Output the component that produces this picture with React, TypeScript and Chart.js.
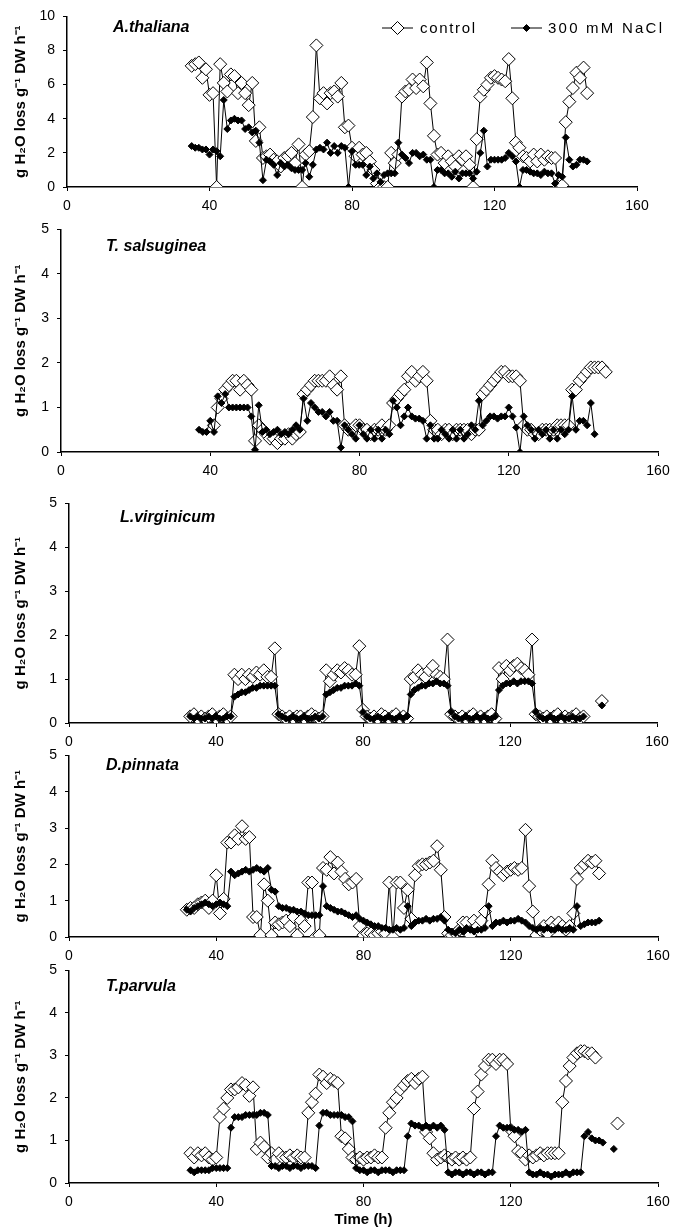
import React, { useEffect, useRef } from 'react';
import { Chart, registerables } from 'chart.js';

Chart.register(...registerables);

const FONT = '"Liberation Sans", Arial, Helvetica, sans-serif';
const Y_TITLE = 'g H\u2082O loss g\u207B\u00B9 DW h\u207B\u00B9';
const X_TICKS = [0, 40, 80, 120, 160];

// ---------- A. thaliana ----------
const timeAth = [
  35, 36, 37, 38, 39, 40, 41, 42, 43, 44,
  45, 46, 47, 48, 49, 50, 51, 52, 53, 54,
  55, 56, 57, 58, 59, 60, 61, 62, 63, 64,
  65, 66, 67, 68, 69, 70, 71, 72, 73, 74,
  75, 76, 77, 78, 79, 80, 81, 82, 83, 84,
  85, 86, 87, 88, 89, 90, 91, 92, 93, 94,
  95, 96, 97, 98, 99, 100, 101, 102, 103, 104,
  105, 106, 107, 108, 109, 110, 111, 112, 113, 114,
  115, 116, 117, 118, 119, 120, 121, 122, 123, 124,
  125, 126, 127, 128, 129, 130, 131, 132, 133, 134,
  135, 136, 137, 138, 139, 140, 141, 142, 143, 144,
  145, 146,
];
const ctrlAth = [
  7.1, 7.2, 7.3, 6.4, 6.9, 5.4, 5.5, 0, 7.2, 6.1,
  5.6, 6.6, 6.5, 5.5, 6.1, 5.5, 4.8, 6.1, 2.7, 3.5,
  1.7, 1.8, 1.9, 1.6, 1.5, 1.2, 1.7, 1.8, 2.0, 1.4,
  2.5, 0, 1.9, 2.1, 4.1, 8.3, 5.2, 5.5, 4.9, 5.5,
  5.6, 5.3, 6.1, 3.5, 3.6, 2.3, 1.8, 2.3, 1.9, 2.0,
  1.5, 1.0, 0.2, 0, 0, 0, 2.0, 1.4, 1.9, 5.3,
  5.6, 5.7, 6.3, 5.8, 6.3, 5.9, 7.3, 4.9, 3.0, 1.9,
  2.0, 1.4, 1.8, 1.5, 1.2, 1.8, 1.6, 1.8, 1.3, 0,
  2.8, 5.3, 5.7, 6.0, 6.4, 6.5, 6.4, 6.3, 6.2, 7.5,
  5.2, 2.6, 2.3, 1.8, 1.7, 1.5, 1.9, 1.5, 1.9, 1.6,
  1.8, 1.7, 1.7, 0, 0.1, 3.8, 5.0, 5.8, 6.7, 6.4,
  7.0, 5.5,
];
const saltAth = [
  2.4, 2.3, 2.3, 2.2, 2.2, 1.9, 2.2, 2.1, 1.8, 5.1,
  3.4, 3.9, 4.0, 3.9, 3.9, 3.4, 3.5, 3.2, 3.3, 2.6,
  0.4, 1.6, 1.5, 1.3, 0.7, 1.4, 1.2, 1.3, 1.1, 1.0,
  1.0, 1.0, 1.4, 0.6, 1.3, 2.2, 2.3, 2.2, 2.6, 2.0,
  2.4, 2.0, 2.4, 2.3, 0, 2.1, 1.3, 1.3, 1.3, 0.7,
  1.2, 0.5, 0.8, 0.3, 0.7, 0.8, 0.8, 0.8, 2.6, 1.9,
  1.7, 1.4, 2.0, 2.0, 1.8, 1.9, 1.6, 1.6, 0, 1.0,
  1.0, 0.8, 0.8, 0.6, 0.9, 0.5, 0.8, 0.8, 0.8, 0.5,
  0.9, 2.0, 3.3, 1.2, 1.6, 1.6, 1.6, 1.6, 1.7, 2.0,
  1.8, 1.5, 0, 1.0, 1.0, 0.9, 0.8, 0.8, 0.7, 0.9,
  0.8, 0.8, 0.2, 0.7, 0.6, 2.9, 1.6, 1.2, 1.3, 1.6,
  1.6, 1.5,
];

// ---------- T. salsuginea ----------
const timeTsal = [
  37, 38, 39, 40, 41, 42, 43, 44, 45, 46,
  47, 48, 49, 50, 51, 52, 53, 54, 55, 56,
  57, 58, 59, 60, 61, 62, 63, 64, 65, 66,
  67, 68, 69, 70, 71, 72, 73, 74, 75, 76,
  77, 78, 79, 80, 81, 82, 83, 84, 85, 86,
  87, 88, 89, 90, 91, 92, 93, 94, 95, 96,
  97, 98, 99, 100, 101, 102, 103, 104, 105, 106,
  107, 108, 109, 110, 111, 112, 113, 114, 115, 116,
  117, 118, 119, 120, 121, 122, 123, 124, 125, 126,
  127, 128, 129, 130, 131, 132, 133, 134, 135, 136,
  137, 138, 139, 140, 141, 142, 143, 144, 145, 146,
];
const ctrlTsal = [
  null, null, null, null, 0.6, 1.0, 1.2, 1.4, 1.5, 1.6,
  1.6, 1.4, 1.6, 1.5, 1.4, 0.25, 0.6, 0.5, 0.4, 0.3,
  0.3, 0.2, 0.3, 0.3, 0.4, 0.3, 0.4, 0.45, 1.3, 1.4,
  1.5, 1.6, 1.6, 1.6, 1.6, 1.7, 1.5, 1.4, 1.7, 0.6,
  0.5, 0.5, 0.6, 0.6, 0.5, 0.5, 0.4, 0.5, 0.5, 0.6,
  0.5, 0.6, 1.1, 1.2, 1.3, 1.4, 1.7, 1.8, 1.6, 1.7,
  1.8, 1.6, 0.7, 0.5, 0.5, 0.4, 0.5, 0.5, 0.4, 0.5,
  0.5, 0.5, 0.5, 0.4, 0.5, 0.5, 1.3, 1.4, 1.5, 1.6,
  1.7, 1.8, 1.8, 1.7, 1.7, 1.7, 1.6, 0.6, 0.5, 0.5,
  0.4, 0.4, 0.5, 0.5, 0.5, 0.5, 0.6, 0.6, 0.6, 0.6,
  1.4, 1.4, 1.6, 1.7, 1.8, 1.9, 1.9, 1.9, 1.9, 1.8,
];
const saltTsal = [
  0.5, 0.45, 0.45, 0.7, 0.45, 1.25, 1.1, 1.3, 1.0, 1.0,
  1.0, 1.0, 1.0, 1.0, 0.8, 0.05, 1.05, 0.45, 0.5, 0.4,
  0.45, 0.5, 0.4, 0.45, 0.4, 0.5, 0.6, 0.5, 1.2, 0.7,
  1.1, 1.0, 0.9, 0.9, 0.8, 0.9, 0.7, 0.7, 0.1, 0.6,
  0.5, 0.4, 0.3, 0.6, 0.4, 0.3, 0.5, 0.3, 0.5, 0.3,
  0.5, 0.4, 1.15, 1.0, 0.6, 0.8, 1.0, 0.8, 0.75, 0.75,
  0.7, 0.3, 0.6, 0.3, 0.3, 0.5, 0.4, 0.3, 0.5, 0.3,
  0.5, 0.3, 0.4, 0.6, 0.5, 1.15, 0.6, 0.7, 0.8, 0.8,
  0.75, 0.8, 0.8, 1.0, 0.8, 0.55, 0, 0.8, 0.6, 0.5,
  0.3, 0.5, 0.4, 0.5, 0.3, 0.5, 0.3, 0.5, 0.4, 0.5,
  1.25, 0.5, 0.7, 0.7, 0.6, 1.1, 0.4, null, null, null,
];

// ---------- L. virginicum ----------
const timeLvir = [
  33, 34, 35, 36, 37, 38, 39, 40, 41, 42,
  43, 44, 45, 46, 47, 48, 49, 50, 51, 52,
  53, 54, 55, 56, 57, 58, 59, 60, 61, 62,
  63, 64, 65, 66, 67, 68, 69, 70, 71, 72,
  73, 74, 75, 76, 77, 78, 79, 80, 81, 82,
  83, 84, 85, 86, 87, 88, 89, 90, 91, 92,
  93, 94, 95, 96, 97, 98, 99, 100, 101, 102,
  103, 104, 105, 106, 107, 108, 109, 110, 111, 112,
  113, 114, 115, 116, 117, 118, 119, 120, 121, 122,
  123, 124, 125, 126, 127, 128, 129, 130, 131, 132,
  133, 134, 135, 136, 137, 138, 139, 140, 141, 142,
  143, 144, 145,
];
const ctrlLvir = [
  0.15, 0.2, 0.1, 0.15, 0.1, 0.15, 0.2, 0.1, 0.15, 0.2,
  0.1, 0.15, 1.1, 1.0, 1.1, 1.0, 1.1, 1.05, 1.15, 1.1,
  1.2, 1.05, 1.05, 1.7, 0.2, 0.15, 0.1, 0.15, 0.1, 0.15,
  0.15, 0.1, 0.15, 0.2, 0.15, 0.1, 0.15, 1.2, 0.95, 1.1,
  1.2, 1.15, 1.25, 1.2, 1.1, 1.1, 1.75, 0.3, 0.15, 0.1,
  0.15, 0.1, 0.2, 0.15, 0.1, 0.15, 0.2, 0.1, 0.15, 0.1,
  1.0, 1.05, 1.2, 1.1, 1.05, 1.2, 1.3, 1.1, 1.05, 1.0,
  1.9, 0.2, 0.15, 0.1, 0.15, 0.1, 0.15, 0.2, 0.1, 0.15,
  0.1, 0.15, 0.2, 0.1, 1.25, 1.0, 1.3, 1.2, 1.3, 1.35,
  1.25, 1.2, 1.1, 1.9, 0.2, 0.15, 0.1, 0.15, 0.1, 0.15,
  0.2, 0.1, 0.15, 0.1, 0.15, 0.2, 0.1, 0.15, null, null,
  null, null, 0.5,
];
const saltLvir = [
  0.15, 0.1, 0.15, 0.1, 0.1, 0.15, 0.1, 0.15, 0.1, 0.1,
  0.15, 0.15, 0.6, 0.65, 0.7, 0.7, 0.75, 0.8, 0.8, 0.85,
  0.85, 0.85, 0.85, 0.85, 0.2, 0.15, 0.1, 0.1, 0.15, 0.1,
  0.1, 0.15, 0.1, 0.1, 0.15, 0.1, 0.15, 0.65, 0.7, 0.75,
  0.8, 0.8, 0.85, 0.85, 0.85, 0.9, 0.85, 0.25, 0.15, 0.1,
  0.1, 0.15, 0.1, 0.1, 0.15, 0.1, 0.1, 0.15, 0.1, 0.15,
  0.65, 0.75, 0.8, 0.85, 0.85, 0.9, 0.9, 0.95, 0.9, 0.9,
  0.85, 0.25, 0.15, 0.1, 0.1, 0.15, 0.1, 0.1, 0.15, 0.1,
  0.15, 0.1, 0.1, 0.15, 0.75, 0.85, 0.9, 0.9, 0.95, 0.9,
  0.95, 0.95, 0.95, 0.9, 0.25, 0.15, 0.1, 0.1, 0.15, 0.1,
  0.1, 0.15, 0.1, 0.1, 0.15, 0.1, 0.1, 0.15, null, null,
  null, null, 0.4,
];

// ---------- D. pinnata ----------
const timeDpin = [
  32, 33, 34, 35, 36, 37, 38, 39, 40, 41,
  42, 43, 44, 45, 46, 47, 48, 49, 50, 51,
  52, 53, 54, 55, 56, 57, 58, 59, 60, 61,
  62, 63, 64, 65, 66, 67, 68, 69, 70, 71,
  72, 73, 74, 75, 76, 77, 78, 79, 80, 81,
  82, 83, 84, 85, 86, 87, 88, 89, 90, 91,
  92, 93, 94, 95, 96, 97, 98, 99, 100, 101,
  102, 103, 104, 105, 106, 107, 108, 109, 110, 111,
  112, 113, 114, 115, 116, 117, 118, 119, 120, 121,
  122, 123, 124, 125, 126, 127, 128, 129, 130, 131,
  132, 133, 134, 135, 136, 137, 138, 139, 140, 141,
  142, 143, 144,
];
const ctrlDpin = [
  0.75, 0.8, 0.8, 0.9, 0.95, 1.0, 0.8, 1.0, 1.7, 0.65,
  1.05, 2.6, 2.6, 2.8, 2.7, 3.05, 2.7, 2.75, 0.55, 0.55,
  0.05, 1.45, 1.0, 0.05, 0.4, 0.35, 0.4, 0.45, 0.3, 0.55,
  0.05, 0.45, 0.3, 1.5, 1.5, 0, 0.05, 1.9, 1.85, 2.2,
  1.75, 2.05, 1.8, 1.6, 1.45, 1.5, 1.6, 0.3, 0.05, 0.1,
  0.1, 0.05, 0.1, 0.15, 0.1, 1.5, 0, 1.5, 1.5, 0.8,
  1.3, 0.5, 1.7, 1.95, 2.0, 2.0, 2.05, 2.1, 2.5, 1.85,
  0.55, 0.1, 0.05, 0.1, 0.2, 0.4, 0.4, 0.05, 0.45, 0.3,
  0.45, 0.7, 1.45, 2.1, 1.9, 1.8, 1.7, 1.8, 1.85, 1.9,
  1.85, 1.9, 2.95, 1.4, 0.7, 0.05, 0.2, 0.3, 0.1, 0.4,
  0.3, 0.4, 0.3, 0.2, 0.3, 0.65, 1.6, 1.9, 2.0, 2.1,
  2.05, 2.1, 1.75,
];
const saltDpin = [
  0.75, 0.7, 0.8, 0.85, 0.9, 0.95, 0.9, 0.85, 0.9, 0.95,
  0.9, 0.85, 1.8, 1.7, 1.75, 1.8, 1.85, 1.8, 1.85, 1.9,
  1.85, 1.8, 1.9, 1.3, 1.25, 0.85, 0.8, 0.8, 0.75, 0.75,
  0.7, 0.7, 0.65, 0.6, 0.6, 0.6, 0.6, 1.4, 0.85, 0.8,
  0.75, 0.7, 0.7, 0.65, 0.6, 0.55, 0.6, 0.5, 0.45, 0.4,
  0.35, 0.3, 0.3, 0.25, 0.25, 0.2, 0.2, 0.25, 0.2, 0.25,
  0.85, 0.3, 0.4, 0.45, 0.45, 0.5, 0.45, 0.5, 0.5, 0.55,
  0.45, 0.2, 0.15, 0.1, 0.2, 0.15, 0.25, 0.2, 0.15, 0.2,
  0.2, 0.25, 0.85, 0.3, 0.4, 0.4, 0.45, 0.4, 0.45, 0.45,
  0.5, 0.45, 0.4, 0.3, 0.25, 0.2, 0.25, 0.2, 0.25, 0.2,
  0.2, 0.25, 0.2, 0.2, 0.25, 0.2, 0.85, 0.3, 0.35, 0.4,
  0.4, 0.4, 0.45,
];

// ---------- T. parvula ----------
const timeTpar = [
  33, 34, 35, 36, 37, 38, 39, 40, 41, 42,
  43, 44, 45, 46, 47, 48, 49, 50, 51, 52,
  53, 54, 55, 56, 57, 58, 59, 60, 61, 62,
  63, 64, 65, 66, 67, 68, 69, 70, 71, 72,
  73, 74, 75, 76, 77, 78, 79, 80, 81, 82,
  83, 84, 85, 86, 87, 88, 89, 90, 91, 92,
  93, 94, 95, 96, 97, 98, 99, 100, 101, 102,
  103, 104, 105, 106, 107, 108, 109, 110, 111, 112,
  113, 114, 115, 116, 117, 118, 119, 120, 121, 122,
  123, 124, 125, 126, 127, 128, 129, 130, 131, 132,
  133, 134, 135, 136, 137, 138, 139, 140, 141, 142,
  143, 144, 145, 146, 147, 148, 149,
];
const ctrlTpar = [
  0.7, 0.6, 0.7, 0.65, 0.7, 0.6, 0.55, 0.6, 1.55, 1.75,
  2.0, 2.2, 2.2, 2.25, 2.35, 2.3, 2.05, 2.25, 0.8, 0.95,
  0.85, 0.6, 0.7, 0.55, 0.7, 0.6, 0.6, 0.65, 0.6, 0.65,
  0.6, 0.6, 1.65, 1.9, 2.1, 2.55, 2.5, 2.35, 2.45, 2.4,
  2.35, 1.1, 1.05, 0.8, 0.6, 0.55, 0.6, 0.55, 0.6, 0.6,
  0.65, 0.6, 0.6, 1.3, 1.65, 1.9, 2.0, 2.2, 2.3, 2.4,
  2.45, 2.35, 2.45, 2.5, 1.2, 1.05, 0.7, 0.55, 0.6, 0.65,
  0.6, 0.55, 0.6, 0.55, 0.6, 0.55, 0.6, 1.75, 2.15, 2.55,
  2.75, 2.9, 2.9, 2.8, 2.9, 2.9, 2.8, 1.25, 1.1, 0.75,
  0.7, 0.55, 0.65, 0.6, 0.65, 0.7, 0.65, 0.7, 0.7, 0.7,
  0.7, 1.9, 2.4, 2.75, 2.95, 3.05, 3.1, 3.1, 3.05, 3.05,
  2.95, null, null, null, null, null, 1.4,
];
const saltTpar = [
  0.3, 0.25, 0.3, 0.3, 0.3, 0.3, 0.35, 0.35, 0.35, 0.35,
  0.35, 1.3, 1.55, 1.55, 1.55, 1.6, 1.6, 1.6, 1.6, 1.65,
  1.65, 1.6, 0.4, 0.4, 0.35, 0.4, 0.4, 0.35, 0.4, 0.4,
  0.35, 0.4, 0.4, 0.4, 0.35, 1.35, 1.65, 1.65, 1.6, 1.6,
  1.6, 1.6, 1.55, 1.55, 1.45, 0.35, 0.3, 0.3, 0.25, 0.3,
  0.3, 0.25, 0.3, 0.3, 0.3, 0.25, 0.3, 0.3, 0.3, 1.1,
  1.4, 1.35, 1.35, 1.3, 1.35, 1.3, 1.35, 1.3, 1.35, 1.25,
  0.25, 0.2, 0.25, 0.25, 0.2, 0.25, 0.25, 0.2, 0.25, 0.25,
  0.2, 0.25, 0.25, 1.1, 1.35, 1.3, 1.3, 1.3, 1.25, 1.25,
  1.2, 1.25, 0.25, 0.2, 0.2, 0.25, 0.2, 0.2, 0.15, 0.2,
  0.2, 0.2, 0.25, 0.2, 0.25, 0.25, 0.25, 1.1, 1.2, 1.05,
  1.0, 1.0, 0.95, null, null, 0.8, null,
];

type Panel = {
  name: string;
  time: number[];
  ctrl: (number | null)[];
  salt: (number | null)[];
  yMax: number;
  yStep: number;
  plotTop: number;
  plotBottom: number;
  plotLeft: number;
  plotRight: number;
  nameX: number;
  nameY: number;
  legend?: boolean;
  xTitle?: boolean;
};

const PANELS: Panel[] = [
  { name: 'A.thaliana', time: timeAth, ctrl: ctrlAth, salt: saltAth, yMax: 10, yStep: 2,
    plotTop: 12, plotBottom: 187, plotLeft: 67, plotRight: 637, nameX: 113, nameY: 28, legend: true },
  { name: 'T. salsuginea', time: timeTsal, ctrl: ctrlTsal, salt: saltTsal, yMax: 5, yStep: 1,
    plotTop: 229, plotBottom: 452, plotLeft: 61, plotRight: 658, nameX: 106, nameY: 247 },
  { name: 'L.virginicum', time: timeLvir, ctrl: ctrlLvir, salt: saltLvir, yMax: 5, yStep: 1,
    plotTop: 503, plotBottom: 723, plotLeft: 69, plotRight: 657, nameX: 120, nameY: 518 },
  { name: 'D.pinnata', time: timeDpin, ctrl: ctrlDpin, salt: saltDpin, yMax: 5, yStep: 1,
    plotTop: 755, plotBottom: 937, plotLeft: 69, plotRight: 658, nameX: 106, nameY: 766 },
  { name: 'T.parvula', time: timeTpar, ctrl: ctrlTpar, salt: saltTpar, yMax: 5, yStep: 1,
    plotTop: 970, plotBottom: 1183, plotLeft: 69, plotRight: 658, nameX: 106, nameY: 987, xTitle: true },
];

function diamond(ctx: CanvasRenderingContext2D, x: number, y: number, r: number, fill: string) {
  ctx.beginPath();
  ctx.moveTo(x - r, y);
  ctx.lineTo(x, y - r);
  ctx.lineTo(x + r, y);
  ctx.lineTo(x, y + r);
  ctx.closePath();
  ctx.fillStyle = fill;
  ctx.fill();
  ctx.lineWidth = 1;
  ctx.strokeStyle = '#000';
  ctx.stroke();
}

const annotPlugin = {
  id: 'annot',
  afterDraw(chart: any, _args: any, opts: any) {
    const ctx: CanvasRenderingContext2D = chart.ctx;
    ctx.save();
    ctx.fillStyle = '#000';
    ctx.textBaseline = 'middle';
    ctx.textAlign = 'left';
    ctx.font = `italic bold 16px ${FONT}`;
    ctx.fillText(opts.name, opts.nameX, opts.nameY);
    if (opts.legend) {
      const ds = chart.data.datasets;
      const ctrl = ds.find((d: any) => d.label === 'control');
      const salt = ds.find((d: any) => d.label === '300 mM NaCl');
      const items = [
        { d: ctrl, x0: 382, x1: 413, tx: 420, w: 55 },
        { d: salt, x0: 511, x1: 542, tx: 548, w: 114 },
      ];
      ctx.font = `15px ${FONT}`;
      for (const it of items) {
        const y = opts.legendY;
        ctx.beginPath();
        ctx.moveTo(it.x0, y);
        ctx.lineTo(it.x1, y);
        ctx.lineWidth = 1;
        ctx.strokeStyle = '#000';
        ctx.stroke();
        diamond(ctx, (it.x0 + it.x1) / 2, y, it.d.pointRadius, it.d.pointBackgroundColor);
        const txt = it.d.label;
        const base = ctx.measureText(txt).width;
        const n = Math.max(1, txt.length - 1);
        const ls = Math.max(0, (it.w - base) / n);
        (ctx as any).letterSpacing = `${ls.toFixed(2)}px`;
        ctx.fillStyle = '#000';
        ctx.fillText(txt, it.tx, y + 1);
        (ctx as any).letterSpacing = '0px';
      }
    }
    ctx.restore();
  },
};

function PanelChart({ p }: { p: Panel }) {
  const ref = useRef<HTMLCanvasElement>(null);
  const cTop = Math.max(0, p.plotTop - 16);
  const cBottom = p.xTitle ? 1230 : p.plotBottom + 30;
  const h = cBottom - cTop;

  useEffect(() => {
    if (!ref.current) return;
    const ctrlPts = p.time.map((t, i) => ({ x: t, y: p.ctrl[i] }));
    const saltPts = p.time.map((t, i) => ({ x: t, y: p.salt[i] }));
    const tickFont = { family: FONT, size: 14 };
    const chart = new Chart(ref.current, {
      type: 'line',
      data: {
        datasets: [
          {
            label: '300 mM NaCl',
            data: saltPts as any,
            order: 0,
            borderColor: '#000',
            borderWidth: 1,
            pointStyle: 'rectRot',
            pointRadius: 3.5,
            pointBackgroundColor: '#000',
            pointBorderColor: '#000',
            pointBorderWidth: 1,
            tension: 0,
            spanGaps: false,
            fill: false,
          },
          {
            label: 'control',
            data: ctrlPts as any,
            order: 1,
            borderColor: '#000',
            borderWidth: 1,
            pointStyle: 'rectRot',
            pointRadius: 6.5,
            pointBackgroundColor: '#fff',
            pointBorderColor: '#000',
            pointBorderWidth: 1,
            tension: 0,
            spanGaps: false,
            fill: false,
          },
        ],
      },
      options: {
        responsive: false,
        maintainAspectRatio: false,
        animation: false,
        devicePixelRatio: 1,
        events: [],
        layout: { padding: { left: 0, top: p.plotTop - cTop, right: 681 - p.plotRight, bottom: 0 } },
        plugins: {
          legend: { display: false },
          tooltip: { enabled: false },
          annot: {
            name: p.name,
            nameX: p.nameX,
            nameY: p.nameY - cTop,
            legend: !!p.legend,
            legendY: 28 - cTop,
          },
        } as any,
        scales: {
          x: {
            type: 'linear',
            min: 0,
            max: 160,
            afterBuildTicks: (s: any) => { s.ticks = X_TICKS.map((v) => ({ value: v })); },
            ticks: { font: tickFont, color: '#000', padding: 7, maxRotation: 0, autoSkip: false },
            grid: { drawOnChartArea: false, drawTicks: true, tickLength: 4, color: '#000', lineWidth: 1 },
            border: { display: true, color: '#000', width: 1.5 },
            title: p.xTitle
              ? { display: true, text: 'Time (h)', color: '#000', font: { family: FONT, size: 15, weight: 'bold' }, padding: { top: 0, bottom: 1 } }
              : { display: false },
            afterFit: (s: any) => { s.height = cBottom - p.plotBottom; },
          },
          y: {
            type: 'linear',
            min: 0,
            max: p.yMax,
            ticks: { stepSize: p.yStep, font: tickFont, color: '#000', padding: 8 },
            grid: { drawOnChartArea: false, drawTicks: true, tickLength: 4, color: '#000', lineWidth: 1 },
            border: { display: true, color: '#000', width: 1.5 },
            title: { display: true, text: Y_TITLE, color: '#000', font: { family: FONT, size: 15, weight: 'bold' }, padding: { top: 12, bottom: 0 } },
            afterFit: (s: any) => { s.width = p.plotLeft; },
          },
        },
      },
      plugins: [annotPlugin as any],
    });
    return () => chart.destroy();
  }, [p, cTop, cBottom]);

  return (
    <canvas
      ref={ref}
      width={681}
      height={h}
      style={{ position: 'absolute', left: 0, top: cTop, width: 681, height: h }}
    />
  );
}

export default function App() {
  return (
    <div style={{ position: 'absolute', left: 0, top: 0, width: 681, height: 1230, background: '#fff', overflow: 'hidden' }}>
      {PANELS.map((p) => (
        <PanelChart key={p.name} p={p} />
      ))}
    </div>
  );
}
